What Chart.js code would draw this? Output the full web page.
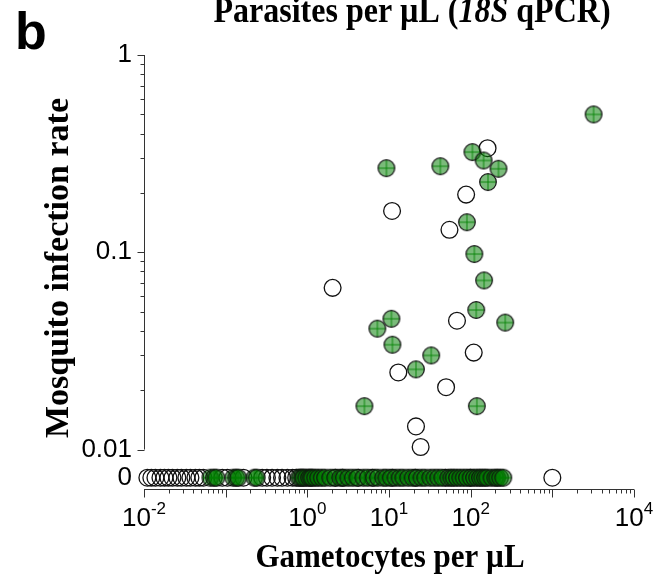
<!DOCTYPE html>
<html>
<head>
<meta charset="utf-8">
<script src="https://cdn.jsdelivr.net/npm/chart.js@4"></script>
<style>
  body { margin: 0; background: #fff; }
  canvas { display: block; }
</style>
</head>
<body>
<canvas id="myChart" width="662" height="577"></canvas>
<script>
// infected feeds (rate > 0)
var greenGam  = [3200, 105, 144, 219, 163, 42.5, 9.3, 90, 111, 146, 117, 10.7, 7.2, 265, 11.0, 32.9, 21.4, 5.0, 119];
var greenRate = [0.50, 0.322, 0.292, 0.265, 0.227, 0.273, 0.267, 0.142, 0.098, 0.072, 0.051, 0.046, 0.041, 0.044, 0.034, 0.030, 0.0255, 0.0166, 0.0166];
var openGam   = [161, 10.9, 88, 55, 2.04, 68, 109, 13.0, 50, 21.4, 24.4];
var openRate  = [0.337, 0.162, 0.196, 0.130, 0.066, 0.045, 0.031, 0.0246, 0.0207, 0.0131, 0.0103];

// feeds with no infected mosquitoes (rate = 0)
var greenGamZero = [0.065, 0.072, 0.077, 0.124, 0.135, 0.143, 0.225, 0.24,
                    0.78, 0.82, 0.87, 0.9, 0.97, 1.05, 1.1, 1.15, 1.25, 1.36, 1.5, 1.65, 1.91, 2.2, 2.53, 2.8, 3.18, 3.6,
                    4.1, 4.85, 5.5, 6.5, 7.3, 8.5, 9.3, 10.5, 12, 13.5, 15, 17.2, 19.5, 22, 25, 27.8, 32, 36, 40.1, 45,
                    53.2, 58, 62, 68, 74.6, 82, 90, 100, 110, 120, 130, 139, 150, 160, 180, 200, 212, 230, 251];
var openGamZero  = [0.011, 0.0123, 0.0138, 0.0159, 0.0178, 0.0199, 0.0223, 0.0256, 0.0287, 0.033, 0.037, 0.0426, 0.0476, 0.0533,
                    0.091, 0.105, 0.165, 0.28, 0.32, 0.37, 0.43, 0.49, 0.57, 0.66, 0.73, 2.2, 2.7, 4.2, 6.25, 11, 21, 49, 99, 1000];

// axes
var yMin = 0.00631, yZero = 0.0072;
var yMajor = [0.01, 0.1, 1];
var xLabelExp = [-2, 0, 1, 2, 4];

function puntos(gam, rate){
    var lista = [];
    for (var i = 0; i < gam.length; i++){
        lista.push({x: gam[i], y: rate[i] === 0 ? yZero : rate[i]});
    }
    return lista;
}
function ceros(n){ var a = []; for (var i = 0; i < n; i++) a.push(0); return a; }

// green circle with crosshair
function puntoVerde(){
    var c = document.createElement('canvas');
    c.width = 20; c.height = 20;
    var g = c.getContext('2d');
    g.beginPath(); g.arc(10, 10, 8.3, 0, Math.PI*2);
    g.fillStyle = 'rgba(0,125,0,0.52)'; g.fill();
    g.strokeStyle = 'rgba(0,130,0,0.9)'; g.lineWidth = 1;
    g.beginPath(); g.moveTo(2, 10); g.lineTo(18, 10); g.moveTo(10, 2); g.lineTo(10, 18); g.stroke();
    g.beginPath(); g.arc(10, 10, 8.3, 0, Math.PI*2);
    g.strokeStyle = '#111'; g.lineWidth = 1.2; g.stroke();
    return c;
}

var serif = '"Liberation Serif", "Times New Roman", serif';
var sans = '"Liberation Sans", Arial, sans-serif';

var ejes = {
    id: 'ejes',
    afterDraw: function(chart){
        var ctx = chart.ctx, xs = chart.scales.x, ys = chart.scales.y;
        var a = chart.chartArea;
        ctx.save();
        ctx.strokeStyle = '#333'; ctx.lineWidth = 1;
        ctx.beginPath();
        var x0 = Math.round(a.left) + 0.5, yb = Math.round(a.bottom) + 0.5;
        ctx.moveTo(x0, ys.getPixelForValue(0.01)); ctx.lineTo(x0, ys.getPixelForValue(1));
        ctx.moveTo(xs.getPixelForValue(0.01), yb); ctx.lineTo(xs.getPixelForValue(10000), yb);
        // y ticks
        for (var d = -2; d < 0; d++){
            for (var m = 1; m < 10; m++){
                var py = Math.round(ys.getPixelForValue(m*Math.pow(10, d))) + 0.5;
                ctx.moveTo(x0, py); ctx.lineTo(x0 - (m === 1 ? 7 : 4), py);
            }
        }
        var p1 = Math.round(ys.getPixelForValue(1)) + 0.5;
        ctx.moveTo(x0, p1); ctx.lineTo(x0 - 7, p1);
        // x ticks
        for (var e = -2; e < 4; e++){
            for (var k = 1; k < 10; k++){
                var px = Math.round(xs.getPixelForValue(k*Math.pow(10, e))) + 0.5;
                ctx.moveTo(px, yb); ctx.lineTo(px, yb + (k === 1 ? 8 : 4));
            }
        }
        var p4 = Math.round(xs.getPixelForValue(10000)) + 0.5;
        ctx.moveTo(p4, yb); ctx.lineTo(p4, yb + 8);
        ctx.stroke();

        // x tick labels 10^n
        ctx.fillStyle = '#000';
        ctx.textBaseline = 'alphabetic'; ctx.textAlign = 'left';
        xLabelExp.forEach(function(n){
            var cx = xs.getPixelForValue(Math.pow(10, n));
            ctx.font = '26px ' + sans;
            var w1 = ctx.measureText('10').width;
            ctx.font = '17px ' + sans;
            var sup = n < 0 ? '-' + (-n) : '' + n;
            var w2 = ctx.measureText(sup).width;
            var sx = cx - (w1 + w2)/2;
            ctx.font = '26px ' + sans;
            ctx.fillText('10', sx, 526);
            ctx.font = '17px ' + sans;
            ctx.fillText(sup, sx + w1, 514);
        });

        // titles
        ctx.save();
        ctx.translate(390, 567);
        ctx.scale(1, 1.06);
        ctx.font = 'bold 31px ' + serif;
        ctx.textAlign = 'center';
        ctx.fillText('Gametocytes per µL', 0, 0);
        ctx.restore();

        ctx.save();
        ctx.translate(68, 268);
        ctx.rotate(-Math.PI/2);
        ctx.font = 'bold 34px ' + serif;
        ctx.textAlign = 'center';
        ctx.fillText('Mosquito infection rate', 0, 0);
        ctx.restore();

        var partes = [['Parasites per µL (', 'bold 32px '], ['18S', 'italic bold 32px '], [' qPCR)', 'bold 32px ']];
        var total = 0;
        partes.forEach(function(p){ ctx.font = p[1] + serif; total += ctx.measureText(p[0]).width; });
        ctx.save();
        ctx.translate(412 - total/2, 22);
        ctx.scale(1, 1.12);
        var tx = 0;
        ctx.textAlign = 'left';
        partes.forEach(function(p){ ctx.font = p[1] + serif; ctx.fillText(p[0], tx, 0); tx += ctx.measureText(p[0]).width; });
        ctx.restore();

        ctx.font = 'bold 52px ' + sans;
        ctx.textAlign = 'left';
        ctx.fillText('b', 15, 49);
        ctx.restore();
    }
};

var yTicks = [yZero];
for (var d = -2; d < 0; d++){ for (var m = 1; m < 10; m++){ yTicks.push(m*Math.pow(10, d)); } }
yTicks.push(1);

const ctx = document.getElementById('myChart').getContext('2d');
const chart = new Chart(ctx, {
    type: 'scatter',
    data: {
        datasets: [{
            label: 'infectious',
            data: puntos(greenGam, greenRate).concat(puntos(greenGamZero, ceros(greenGamZero.length))),
            pointStyle: puntoVerde(),
            pointRadius: 9,
            order: 0,
            clip: false
        }, {
            label: 'other',
            data: puntos(openGam, openRate).concat(puntos(openGamZero, ceros(openGamZero.length))),
            pointStyle: 'circle',
            pointRadius: 8.4,
            borderWidth: 1.3,
            borderColor: '#111',
            backgroundColor: 'rgba(255,255,255,0)',
            order: 1,
            clip: false
        }]
    },
    options: {
        responsive: false,
        animation: false,
        events: [],
        layout: { padding: { left: 0, top: 55, right: 28, bottom: 0 } },
        plugins: { legend: { display: false }, tooltip: { enabled: false } },
        scales: {
            x: {
                type: 'logarithmic',
                min: 0.01, max: 10000,
                grid: { display: false, drawTicks: false },
                border: { display: false },
                ticks: { display: false },
                afterFit: function(s){ s.height = 88; }
            },
            y: {
                type: 'logarithmic',
                min: yMin, max: 1,
                grid: { display: false, drawTicks: false },
                border: { display: false },
                afterBuildTicks: function(s){ s.ticks = yTicks.map(function(v){ return {value: v}; }); },
                ticks: {
                    autoSkip: false,
                    padding: 12,
                    color: '#000',
                    font: { family: sans, size: 26 },
                    callback: function(v){
                        if (v === yZero) return '0';
                        if (yMajor.indexOf(v) >= 0) return '' + v;
                        return '';
                    }
                },
                afterFit: function(s){ s.width = 144; }
            }
        }
    },
    plugins: [ejes]
});
</script>
</body>
</html>
